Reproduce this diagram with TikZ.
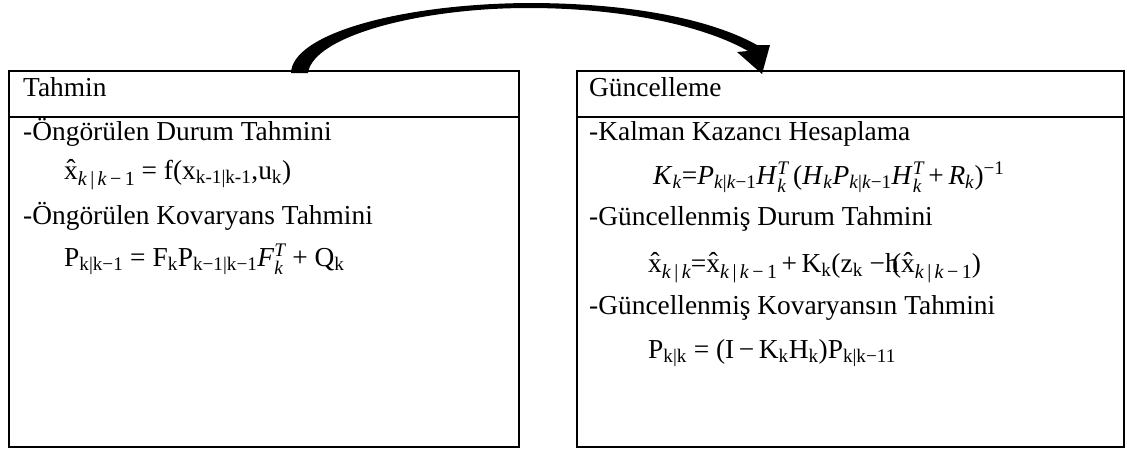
\documentclass[tikz,border=0pt]{standalone}
\usepackage{amsmath}
\usepackage{fontspec}
\setmainfont{Liberation Serif}
\newcommand\kk[1]{\textit{#1}}
\newcommand\st[2]{$_{\textit{#1}}^{\textit{#2}}$}
\newcommand\sbm[1]{\raisebox{-0.22em}{\fontsize{20}{20}\selectfont #1}}
\tikzset{
  boxnode/.style={draw, line width=1.8pt, minimum width=#1, minimum height=376pt, inner sep=0pt, anchor=north west},
  txt/.style={anchor=base west, inner sep=0pt, font=\fontsize{27.4}{32}\selectfont},
  divider/.style={line width=1.8pt},
}
\begin{document}
\begin{tikzpicture}[x=1pt,y=-1pt]
\useasboundingbox (0,0) rectangle (1127,448);
% boxes
\node[boxnode=510pt] (pred) at (8,70) {};
\node[boxnode=547pt] (upd) at (576,70) {};
\draw[divider] (pred.north west |- 0,117) -- (pred.north east |- 0,117);
\draw[divider] (upd.north west |- 0,117) -- (upd.north east |- 0,117);
% left texts
\node[txt] (t1) at (23,96) {Tahmin};
\node[txt] (l1) at (23,140) {-Öngörülen Durum Tahmini};
\node[txt] (l2) at (64,179) {\^{x}\sbm{\kk{k}\,|\,\kk{k}\,−\,1} = f(x\textsubscript{k-1|k-1},u\textsubscript{k})};
\node[txt] (l3) at (23,224) {-Öngörülen Kovaryans Tahmini};
\node[txt] (l4) at (64,266) {P\textsubscript{k|k−1} = F\textsubscript{k}P\textsubscript{k−1|k−1}\kk{F}\st{k}{T} + Q\textsubscript{k}};
% right texts
\node[txt] (t2) at (589,96) {Güncelleme};
\node[txt] (r1) at (589,140) {-Kalman Kazancı Hesaplama};
\node[txt] (r2) at (653,184) {\kk{K}\textsubscript{\kk{k}}=\kk{P}\textsubscript{\kk{k}|\kk{k}−1}\kk{H}\st{k}{T}\,(\kk{H}\textsubscript{\kk{k}}\kk{P}\textsubscript{\kk{k}|\kk{k}−1}\kk{H}\st{k}{T}\,+\,\kk{R}\textsubscript{\kk{k}})\textsuperscript{−1}};
\node[txt] (r3) at (589,225) {-Güncellenmiş Durum Tahmini};
\node[txt] (r4) at (648,272) {\^{x}\sbm{\kk{k}\,|\,\kk{k}}=\^{x}\sbm{\kk{k}\,|\,\kk{k}\,−\,1}\,+\,K\textsubscript{k}(z\textsubscript{k} −h\kern-0.25em(\^{x}\sbm{\kk{k}\,|\,\kk{k}\,−\,1})};
\node[txt] (r5) at (589,314) {-Güncellenmiş Kovaryansın Tahmini};
\node[txt] (r6) at (648,358) {P\textsubscript{k|k} = (I\,−\,K\textsubscript{k}H\textsubscript{k})P\textsubscript{k|k−11}};
% curved arrow from Tahmin box to Güncelleme box
\fill[black] (291,73) .. controls (292,34) and (400,4) .. (528,3)
  .. controls (640,3) and (716,22) .. (757,45)
  -- (770,45) -- (762,74) -- (737,52) -- (748,51)
  .. controls (708,28) and (630,8) .. (528,8)
  .. controls (420,8) and (313,36) .. (308,73) -- cycle;
\end{tikzpicture}
\end{document}
